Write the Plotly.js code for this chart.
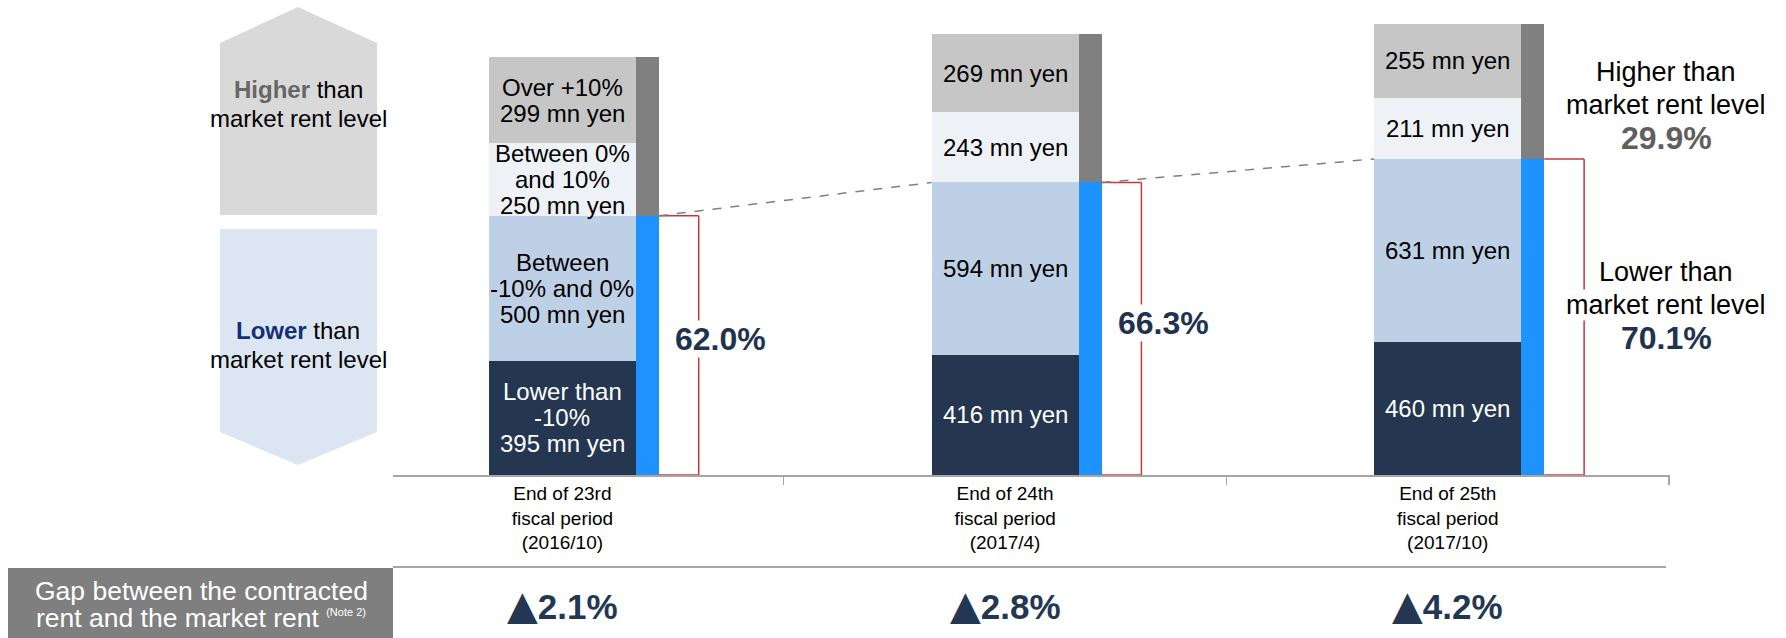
<!DOCTYPE html>
<html>
<head>
<meta charset="utf-8">
<script src="https://cdn.plot.ly/plotly-3.0.1.min.js"></script>
<style>
  html, body { margin: 0; padding: 0; background: #ffffff; }
  #chart { width: 1786px; height: 638px; }
</style>
</head>
<body>
<div id="chart"></div>
<script>
// Fiscal period end points (x categories)
const periods = [
  'End of 23rd<br>fiscal period<br>(2016/10)',
  'End of 24th<br>fiscal period<br>(2017/4)',
  'End of 25th<br>fiscal period<br>(2017/10)'
];

// Rent volume by gap versus market rent, mn yen (bottom to top of each stack)
const lowerThanMinus10 = [395, 416, 460];
const minus10To0       = [500, 594, 631];
const zeroTo10         = [250, 243, 211];
const overPlus10       = [299, 269, 255];

// Share of rent below market level, %
const lowerShare = [62.0, 66.3, 70.1];

// Gap between the contracted rent and the market rent, %
const rentGap = [2.1, 2.8, 4.2];

// Band captions written inside the first stack, bottom to top
const bandCaptions = [
  ['Lower than', '-10%'],
  ['Between', '-10% and 0%'],
  ['Between 0%', 'and 10%'],
  ['Over +10%']
];

const W = 1786, H = 638;
const FONT = 'Liberation Sans, Arial, Helvetica, sans-serif';
const NAVY = '#1f3350';
const px = v => v / W;          // horizontal pixel -> paper
const py = v => 1 - v / H;      // vertical pixel -> paper

// geometry of a period slot, in category units
const MAIN_W = 0.332, MAIN_OFF = -0.166;
const SIDE_W = 0.052, SIDE_OFF = 0.166;
const SIDE_END = SIDE_OFF + SIDE_W;
const BRACKET_X = 0.308;

const bands = [
  { values: lowerThanMinus10, color: '#253750', text: '#ffffff' },
  { values: minus10To0,       color: '#bed0e6', text: '#000000' },
  { values: zeroTo10,         color: '#eef2f6', text: '#000000' },
  { values: overPlus10,       color: '#c6c6c6', text: '#000000' }
];

const lowerTotal  = periods.map((_, i) => lowerThanMinus10[i] + minus10To0[i]);
const higherTotal = periods.map((_, i) => zeroTo10[i] + overPlus10[i]);

const traces = [];
bands.forEach(b => {
  traces.push({
    type: 'bar', x: periods, y: b.values,
    width: MAIN_W, offset: MAIN_OFF,
    marker: { color: b.color, line: { width: 0 } },
    hoverinfo: 'skip', showlegend: false,
    xaxis: 'x', yaxis: 'y'
  });
});
// thin side columns: below-market share and above-market share
traces.push({
  type: 'bar', x: periods, y: lowerTotal,
  width: SIDE_W, offset: SIDE_OFF,
  marker: { color: '#1e93ff', line: { width: 0 } },
  hoverinfo: 'skip', showlegend: false, xaxis: 'x2', yaxis: 'y'
});
traces.push({
  type: 'bar', x: periods, y: higherTotal,
  width: SIDE_W, offset: SIDE_OFF,
  marker: { color: '#808080', line: { width: 0 } },
  hoverinfo: 'skip', showlegend: false, xaxis: 'x2', yaxis: 'y'
});

const annotations = [];
const shapes = [];

// one text annotation, centred on its anchor unless told otherwise
function note(opts) {
  annotations.push(Object.assign({ showarrow: false, xanchor: 'center', yanchor: 'middle' }, opts));
}

// stacked lines of text around one anchor point
function addLines(base, lines, gap, fonts, extra) {
  const n = lines.length;
  lines.forEach((t, k) => {
    note(Object.assign({}, base, {
      text: t,
      yshift: ((n - 1) / 2 - k) * gap + (base.yshift || 0),
      font: Array.isArray(fonts) ? fonts[k] : fonts
    }, extra || {}));
  });
}

// value labels inside each band
const cum = periods.map(() => 0);
bands.forEach((b, j) => {
  periods.forEach((p, i) => {
    const lines = (i === 0 ? bandCaptions[j] : []).concat([b.values[i] + ' mn yen']);
    addLines({ xref: 'x', yref: 'y', x: i, y: cum[i] + b.values[i] / 2 },
      lines, 26, { family: FONT, size: 24, color: b.text });
    cum[i] += b.values[i];
  });
});

// red brackets around the below-market share, with the share in the middle
periods.forEach((p, i) => {
  const red = { color: '#c8363b', width: 1.5 };
  shapes.push({ type: 'line', xref: 'x', yref: 'y', x0: i + SIDE_END, x1: i + BRACKET_X, y0: 0, y1: 0, line: red });
  shapes.push({ type: 'line', xref: 'x', yref: 'y', x0: i + BRACKET_X, x1: i + BRACKET_X, y0: 0, y1: lowerTotal[i], line: red });
  shapes.push({ type: 'line', xref: 'x', yref: 'y', x0: i + SIDE_END, x1: i + BRACKET_X, y0: lowerTotal[i], y1: lowerTotal[i], line: red });
  if (i < periods.length - 1) {
    note({
      xref: 'x', yref: 'y', x: i + 0.357, y: lowerTotal[i] / 2, yshift: 6,
      text: '<b>' + lowerShare[i].toFixed(1) + '%</b>',
      bgcolor: '#ffffff', borderpad: 0,
      font: { family: FONT, size: 32, color: NAVY }
    });
  }
});

// dashed trend connecting the top of the below-market part
for (let i = 0; i < periods.length - 1; i++) {
  shapes.push({
    type: 'line', xref: 'x', yref: 'y',
    x0: i + SIDE_END, y0: lowerTotal[i],
    x1: i + 1 + MAIN_OFF, y1: lowerTotal[i + 1],
    line: { color: '#808080', width: 1.5, dash: 'dash' }
  });
}

// summary for the latest period
const last = periods.length - 1;
const latestLower = lowerShare[last];
const latestHigher = +(100 - latestLower).toFixed(1);
const sideFont = { family: FONT, size: 27, color: '#000000' };
addLines({ xref: 'x', yref: 'y', x: last + 0.494, y: lowerTotal[last] + higherTotal[last] / 2, yshift: -13 },
  ['Higher than', 'market rent level', '<b>' + latestHigher.toFixed(1) + '%</b>'], 33,
  [sideFont, sideFont, { family: FONT, size: 32, color: '#5f5f5f' }]);
addLines({ xref: 'x', yref: 'y', x: last + 0.494, y: lowerTotal[last] / 2, yshift: 12 },
  ['Lower than', 'market rent level', '<b>' + latestLower.toFixed(1) + '%</b>'], 33,
  [sideFont, sideFont, { family: FONT, size: 32, color: NAVY }],
  { bgcolor: '#ffffff', borderpad: 0 });

// direction badges on the left
const upPts = [[220, 43], [298, 7], [377, 43], [377, 215], [220, 215]];
const downPts = [[220, 229], [377, 229], [377, 432], [298, 465], [220, 432]];
const toPath = pts => 'M' + pts.map(p => px(p[0]).toFixed(5) + ',' + py(p[1]).toFixed(5)).join(' L') + ' Z';
shapes.push({ type: 'path', xref: 'paper', yref: 'paper', path: toPath(upPts), fillcolor: '#d9d9d9', line: { width: 0 }, layer: 'below' });
shapes.push({ type: 'path', xref: 'paper', yref: 'paper', path: toPath(downPts), fillcolor: '#dce6f2', line: { width: 0 }, layer: 'below' });
const badgeFont = { family: FONT, size: 24, color: '#000000' };
addLines({ xref: 'paper', yref: 'paper', x: px(298), y: py(104.5) },
  ['<b><span style="color:#666666">Higher</span></b> than', 'market rent level'], 29, badgeFont);
addLines({ xref: 'paper', yref: 'paper', x: px(298), y: py(344.5) },
  ['<b><span style="color:#12307a">Lower</span></b> than', 'market rent level'], 29, badgeFont);

// rent gap row
shapes.push({ type: 'line', xref: 'paper', yref: 'paper', x0: px(393), x1: px(1666), y0: py(567), y1: py(567), line: { color: '#a6a6a6', width: 2 } });
shapes.push({ type: 'rect', xref: 'paper', yref: 'paper', x0: px(8), x1: px(393), y0: 0, y1: py(568), fillcolor: '#7f7f7f', line: { width: 0 } });
const gapFont = { family: FONT, size: 26.5, color: '#ffffff' };
note({ xref: 'paper', yref: 'paper', x: px(201), y: py(591),
  text: 'Gap between the contracted', font: gapFont });
note({ xref: 'paper', yref: 'paper', x: px(201), y: py(618),
  text: 'rent and the market rent <sup><span style="font-size:11px">(Note 2)</span></sup>', font: gapFont });
rentGap.forEach((g, i) => {
  note({
    xref: 'x', yref: 'paper', x: i, y: py(605),
    text: '<b><span style="font-family:DejaVu Sans;font-size:40px">\u25B2</span>' + g.toFixed(1) + '%</b>',
    font: { family: FONT, size: 35, color: '#243752' }
  });
});

const xRange = [-0.3826, 2.502];
const layout = {
  width: W, height: H,
  margin: { l: 0, r: 0, t: 0, b: 0, pad: 0 },
  paper_bgcolor: '#ffffff', plot_bgcolor: 'rgba(0,0,0,0)',
  barmode: 'stack', bargap: 0,
  showlegend: false,
  xaxis: {
    type: 'category', domain: [px(393), px(1670)], range: xRange,
    showline: true, linecolor: '#a6a6a6', linewidth: 2,
    ticks: 'outside', tickson: 'boundaries', ticklen: 8, tickcolor: '#a6a6a6', tickwidth: 1.5,
    tickfont: { family: FONT, size: 19, color: '#000000' },
    showgrid: false, zeroline: false, fixedrange: true
  },
  xaxis2: {
    type: 'category', overlaying: 'x', range: xRange,
    visible: false, showgrid: false, zeroline: false, fixedrange: true
  },
  yaxis: {
    domain: [1 - 475 / H, 1], range: [0, 1640],
    visible: false, showgrid: false, zeroline: false, fixedrange: true
  },
  shapes: shapes,
  annotations: annotations
};

Plotly.newPlot('chart', traces, layout, { displayModeBar: false, staticPlot: true });
</script>
</body>
</html>
